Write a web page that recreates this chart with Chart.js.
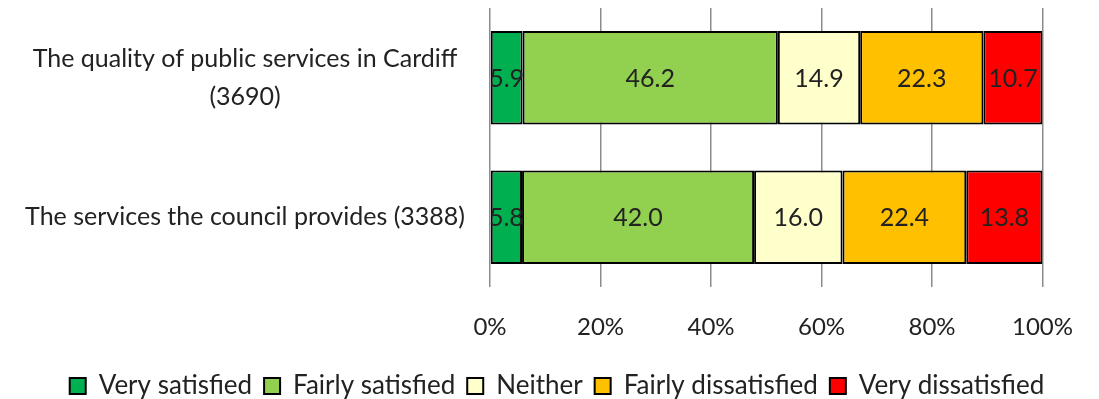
<!DOCTYPE html>
<html>
<head>
<meta charset="utf-8">
<script src="https://cdn.jsdelivr.net/npm/chart.js@4/dist/chart.umd.min.js"></script>
<style>
    html, body { margin: 0; padding: 0; background: #fff; }
    #wrap { width: 1099px; height: 399px; }
</style>
</head>
<body>
<div id="wrap"><canvas id="myChart"></canvas></div>
<script>
    "use strict";

    const questions = [
        ['The quality of public services in Cardiff', '(3690)'],
        'The services the council provides (3388)'
    ];
    const verySatisfied = [5.9, 5.8];
    const fairlySatisfied = [46.2, 42.0];
    const neither = [14.9, 16.0];
    const fairlyDissatisfied = [22.3, 22.4];
    const veryDissatisfied = [10.7, 13.8];
    const tickLabels = ['0%', '20%', '40%', '60%', '80%', '100%'];

    const fontFamily = 'Lato, "Open Sans", sans-serif';
    const fontSize = 25;
    const textColour = '#222';

    function makeSet(label, data, colour) {
        return {
            label: label,
            data: data,
            backgroundColor: colour,
            borderColor: '#000',
            borderWidth: 2,
            borderSkipped: false,
            barPercentage: 0.67,
            categoryPercentage: 1
        };
    }

    // writes each segment's value in the middle of the bar
    const valueLabels = {
        id: 'valueLabels',
        afterDatasetsDraw(chart) {
            const ctx = chart.ctx;
            ctx.save();
            ctx.font = fontSize + 'px ' + fontFamily;
            ctx.fillStyle = textColour;
            ctx.textAlign = 'center';
            ctx.textBaseline = 'middle';
            chart.data.datasets.forEach((ds, i) => {
                chart.getDatasetMeta(i).data.forEach((bar, j) => {
                    const p = bar.getProps(['x', 'y', 'base']);
                    ctx.fillText(ds.data[j].toFixed(1), (p.x + p.base) / 2, p.y + 1);
                });
            });
            ctx.restore();
        }
    };

    // nudge the legend row right so it sits under the whole page
    const legendShift = {
        id: 'legendShift',
        afterLayout(chart) {
            if (chart.legend) {
                chart.legend.left += 35;
                chart.legend.right += 35;
            }
        }
    };

    const ctx = document.getElementById('myChart').getContext('2d');
    const chart = new Chart(ctx, {
        type: 'bar',
        data: {
            labels: questions,
            datasets: [
                makeSet('Very satisfied', verySatisfied, '#00B050'),
                makeSet('Fairly satisfied', fairlySatisfied, '#92D050'),
                makeSet('Neither', neither, '#FFFFCC'),
                makeSet('Fairly dissatisfied', fairlyDissatisfied, '#FFC000'),
                makeSet('Very dissatisfied', veryDissatisfied, '#FF0000')
            ]
        },
        options: {
            indexAxis: 'y',
            responsive: true,
            maintainAspectRatio: false,
            animation: false,
            layout: { padding: { top: 8, right: 55, left: 0, bottom: -10 } },
            scales: {
                x: {
                    stacked: true,
                    min: 0,
                    max: 100,
                    grid: { color: '#8c8c8c', lineWidth: 1.5, drawTicks: false },
                    border: { display: false },
                    afterFit(scale) { scale.height = 74; },
                    ticks: {
                        stepSize: 20,
                        padding: 26,
                        color: textColour,
                        font: { family: fontFamily, size: 24 },
                        callback: (v, i) => tickLabels[i]
                    }
                },
                y: {
                    stacked: true,
                    grid: { display: false },
                    border: { display: false },
                    afterFit(scale) {
                        scale.width = 490;
                        scale.paddingTop = 0;
                        scale.paddingBottom = 0;
                    },
                    ticks: {
                        crossAlign: 'center',
                        padding: 17,
                        color: textColour,
                        font: { family: fontFamily, size: fontSize, lineHeight: 1.5 }
                    }
                }
            },
            plugins: {
                tooltip: { enabled: false },
                legend: {
                    position: 'bottom',
                    labels: {
                        boxWidth: 16,
                        boxHeight: 16,
                        padding: 12,
                        color: textColour,
                        font: { family: fontFamily, size: 26 }
                    }
                }
            }
        },
        plugins: [valueLabels, legendShift]
    });
</script>
</body>
</html>
